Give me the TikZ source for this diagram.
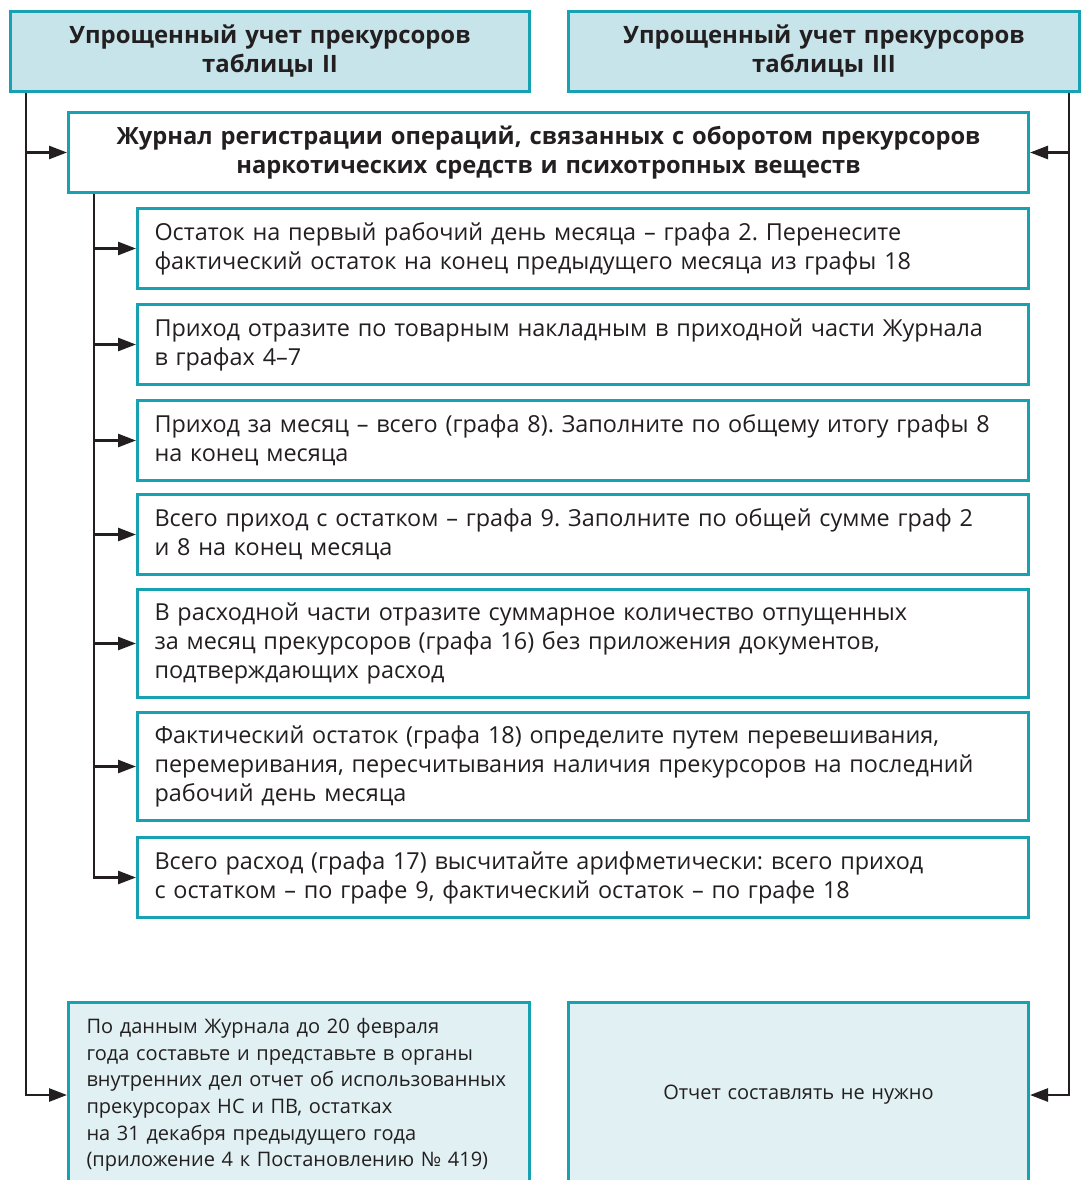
\documentclass[tikz,border=0pt]{standalone}
\usepackage{fontspec}
\setmainfont{Open Sans}
\frenchspacing
\usetikzlibrary{arrows.meta}
\definecolor{bordc}{HTML}{17A2B4}
\definecolor{hdfill}{HTML}{C6E4EA}
\definecolor{ftfill}{HTML}{E0F0F3}
\definecolor{ink}{HTML}{231F20}
\tikzset{
  box/.style={draw=bordc, line width=3pt, rectangle, inner xsep=17pt, inner ysep=0pt, text=ink, anchor=north west},
  headbox/.style={box, fill=hdfill, minimum height=80pt, align=center, font=\bfseries\fontsize{23.9}{29}\selectfont},
  stepbox/.style={box, fill=white, minimum width=891pt, text width=857pt, align=left, font=\frenchspacing\fontsize{23.4}{29}\selectfont},
  footbox/.style={box, fill=ftfill, minimum height=185pt, inner xsep=18pt, font=\fontsize{20}{26.7}\selectfont},
  conn/.style={draw=ink, line width=2.6pt, -{Triangle[length=18pt,width=13pt]}}
}
\begin{document}
\begin{tikzpicture}[x=1pt,y=-1pt]
\useasboundingbox (0,0) rectangle (1080,1180);
\node[headbox, minimum width=519pt, text width=485pt] (tl) at (9,10) {Упрощенный учет прекурсоров\\таблицы II};
\node[headbox, minimum width=511pt, text width=477pt] (tr) at (567,10) {Упрощенный учет прекурсоров\\таблицы III};
\node[box, fill=white, minimum width=960pt, text width=926pt, minimum height=80pt, align=center, font=\bfseries\fontsize{23.7}{29}\selectfont] (jr) at (67,111) {Журнал регистрации операций, связанных с оборотом прекурсоров\\наркотических средств и психотропных веществ};
\node[stepbox, minimum height=80pt] (s1) at (136,207) {Остаток на первый рабочий день месяца – графа 2. Перенесите\\фактический остаток на конец предыдущего месяца из графы 18};
\node[stepbox, minimum height=80pt] (s2) at (136,303) {Приход отразите по товарным накладным в приходной части Журнала\\в графах 4–7};
\node[stepbox, minimum height=80pt] (s3) at (136,399) {Приход за месяц – всего (графа 8). Заполните по общему итогу графы 8\\на конец месяца};
\node[stepbox, minimum height=80pt] (s4) at (136,493) {Всего приход с остатком – графа 9. Заполните по общей сумме граф 2\\и 8 на конец месяца};
\node[stepbox, minimum height=108pt] (s5) at (136,588) {В расходной части отразите суммарное количество отпущенных\\за месяц прекурсоров (графа 16) без приложения документов,\\подтверждающих расход};
\node[stepbox, minimum height=108pt] (s6) at (136,711) {Фактический остаток (графа 18) определите путем перевешивания,\\перемеривания, пересчитывания наличия прекурсоров на последний\\рабочий день месяца};
\node[stepbox, minimum height=80pt] (s7) at (136,836) {Всего расход (графа 17) высчитайте арифметически: всего приход\\с остатком – по графе 9, фактический остаток – по графе 18};
\node[footbox, minimum width=461pt, text width=425pt, align=left] (bl) at (67,1001) {По данным Журнала до 20 февраля\\года составьте и представьте в органы\\внутренних дел отчет об использованных\\прекурсорах НС и ПВ, остатках\\на 31 декабря предыдущего года\\(приложение 4 к Постановлению № 419)};
\node[footbox, minimum width=460pt, text width=424pt, align=center] (br) at (567,1001) {Отчет составлять не нужно};
\coordinate (lx) at (26,0);
\coordinate (rx) at (1069,0);
\coordinate (ix) at (94,0);
\draw[conn] (tl.south -| lx) |- (bl.west);
\draw[conn] (lx |- jr.west) -- (jr.west);
\draw[conn] (tr.south -| rx) |- (br.east);
\draw[conn] (rx |- jr.east) -- (jr.east);
\draw[conn] (jr.south -| ix) |- (s7.west);
\foreach \s in {s1,s2,s3,s4,s5,s6}{
  \draw[conn] (ix |- \s.west) -- (\s.west);
}
\end{tikzpicture}
\end{document}
